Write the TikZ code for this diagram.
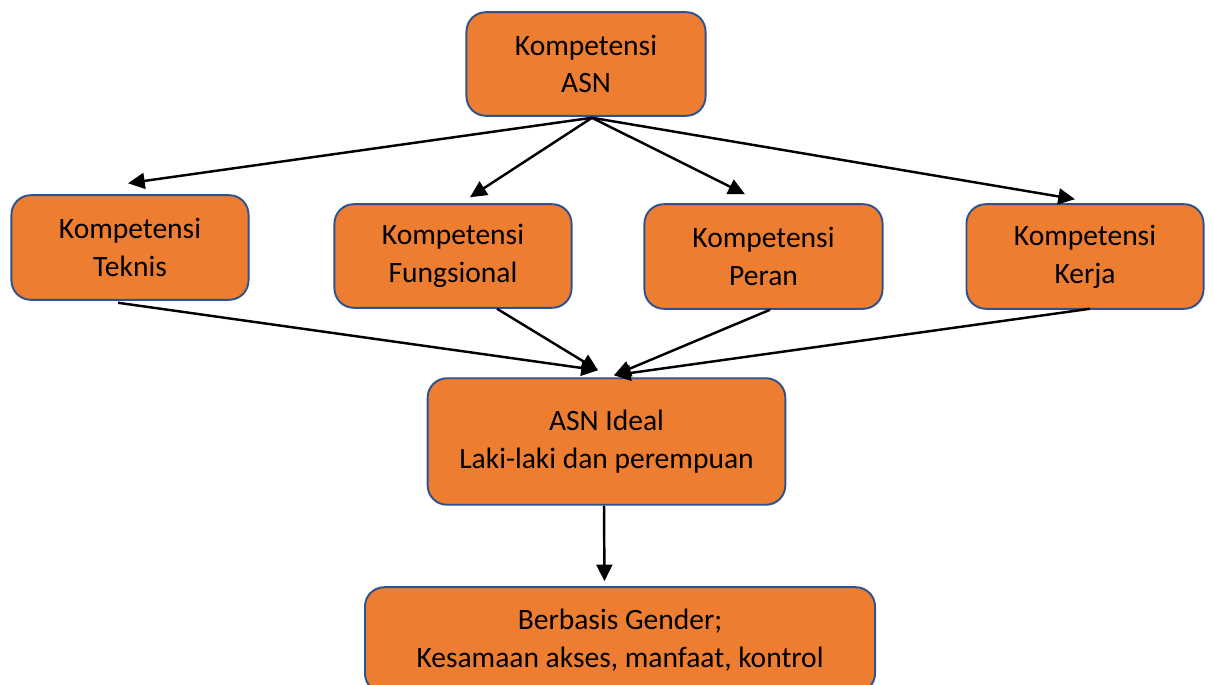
\documentclass[tikz,border=0pt]{standalone}
\usepackage{fontspec}
\setmainfont{Carlito}
\usetikzlibrary{arrows.meta,calc}

\definecolor{boxfill}{HTML}{ED7D31}
\definecolor{boxline}{HTML}{2F528F}

\tikzset{
    kbox/.style={draw=boxline, line width=1.1pt, fill=boxfill, rounded corners=11pt,
        align=center, inner sep=0pt, font=\fontsize{16.8}{21.5}\selectfont},
    karrow/.style={line width=1.4pt, -{Triangle[length=9.5pt,width=9pt]}}
}

\begin{document}
\begin{tikzpicture}[x=0.02cm, y=-0.02cm]
    \useasboundingbox (0,0) rectangle (1213,685);

    \node[kbox, minimum width=240*0.567pt, minimum height=104*0.567pt] (asn) at (586,64) {Kompetensi\\ASN};
    \node[kbox, minimum width=238*0.567pt, minimum height=105*0.567pt] (teknis) at (130,247.5) {Kompetensi\\Teknis};
    \node[kbox, minimum width=238*0.567pt, minimum height=104*0.567pt] (fungsional) at (453,256) {Kompetensi\\Fungsional};
    \node[kbox, minimum width=239*0.567pt, minimum height=105*0.567pt] (peran) at (763.5,256.5) {Kompetensi\\Peran};
    \node[kbox, minimum width=238*0.567pt, minimum height=105*0.567pt] (kerja) at (1085,256.5) {Kompetensi\\Kerja};
    \node[kbox, minimum width=359*0.567pt, minimum height=127*0.567pt] (ideal) at (606.5,441.5) {ASN Ideal\\Laki-laki dan perempuan};
    \node[kbox, minimum width=512*0.567pt, minimum height=106*0.567pt] (gender) at (620,640) {Berbasis Gender;\\Kesamaan akses, manfaat, kontrol};

    \coordinate (fork) at ($(asn.south)+(6,1)$);
    \coordinate (joinleft) at ($(ideal.north)+(-8.5,-7)$);
    \coordinate (joinright) at ($(ideal.north)+(7.5,-2)$);

    \draw[karrow] (fork) -- ($(teknis.north)+(-2,-11)$);
    \draw[karrow] (fork) -- ($(fungsional.north)+(17,-6)$);
    \draw[karrow] (fork) -- ($(peran.north)+(-18.5,-9)$);
    \draw[karrow] (fork) -- ($(kerja.north)+(-10,-4)$);

    \draw[karrow] ($(teknis.south)+(-12,2)$) -- (joinleft);
    \draw[karrow] ($(fungsional.south)+(44,0)$) -- (joinleft);
    \draw[karrow] ($(peran.south)+(6.5,0)$) -- (joinright);
    \draw[karrow] ($(kerja.south)+(5,-1)$) -- (joinright);

    \draw[karrow, shorten >=5*0.567pt] ($(ideal.south)+(-2.5,0)$) -- ($(gender.north)+(-15.5,0)$);
\end{tikzpicture}
\end{document}
